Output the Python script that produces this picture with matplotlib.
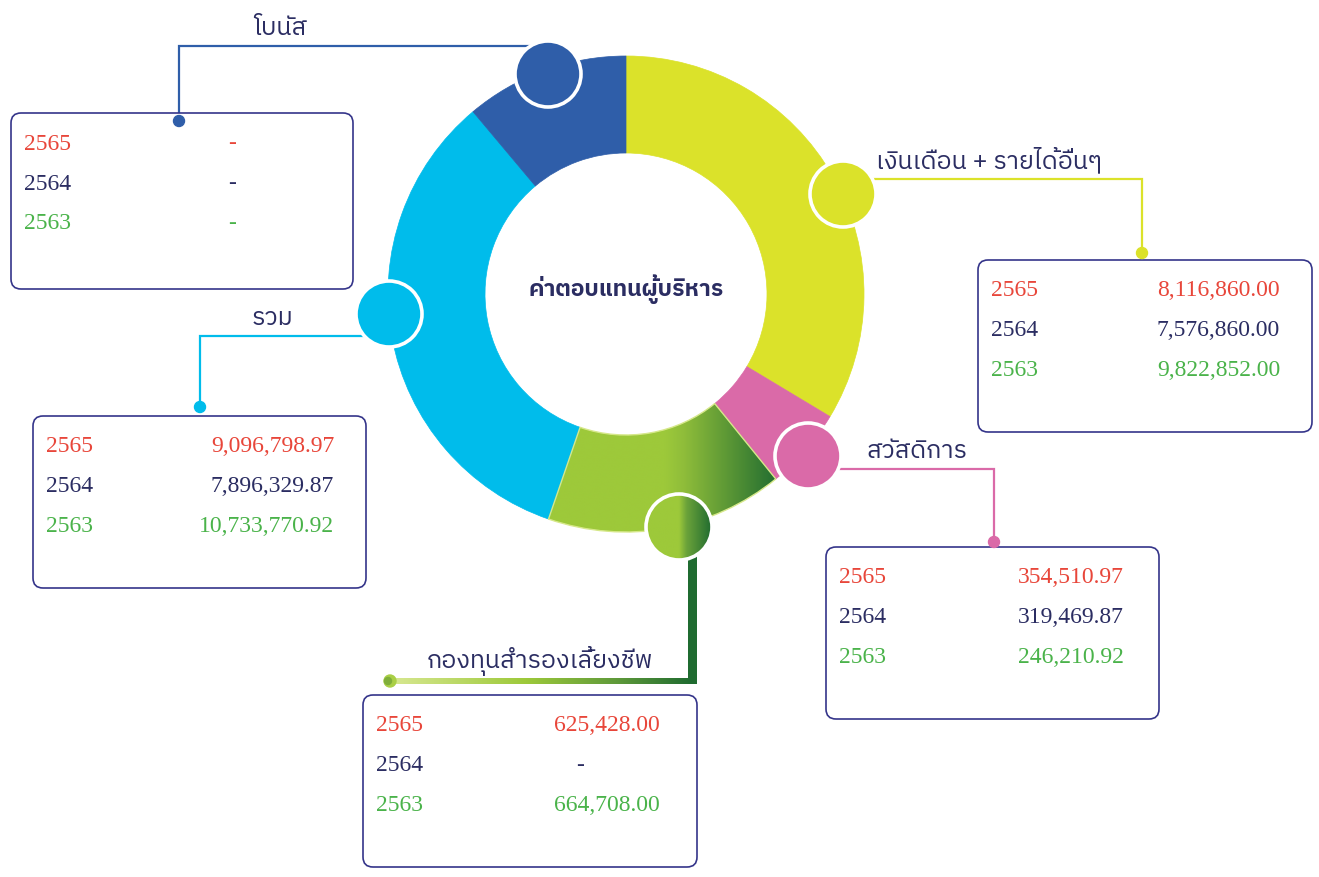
import numpy as np
import matplotlib
matplotlib.use("Agg")
import matplotlib.pyplot as plt
from matplotlib import font_manager
from matplotlib.ft2font import FT2Font
from matplotlib.patches import Wedge, Circle, FancyBboxPatch
from matplotlib.colors import LinearSegmentedColormap

# ---------------- data ----------------
title = "ค่าตอบแทนผู้บริหาร"
categories = ["เงินเดือน + รายได้อื่นๆ", "สวัสดิการ", "กองทุนสำรองเลี้ยงชีพ", "รวม", "โบนัส"]
ring_share_deg = [121, 20, 58, 121, 40]          # decorative ring segment sizes (clockwise from top)
years = ["2565", "2564", "2563"]
val_salary = ["8,116,860.00", "7,576,860.00", "9,822,852.00"]
val_welfare = ["354,510.97", "319,469.87", "246,210.92"]
val_fund = ["625,428.00", "-", "664,708.00"]
val_total = ["9,096,798.97", "7,896,329.87", "10,733,770.92"]
val_bonus = ["-", "-", "-"]

# ---------------- fonts ----------------
def find_thai_font():
    best = None
    for f in font_manager.fontManager.ttflist:
        try:
            cm = FT2Font(f.fname).get_charmap()
        except Exception:
            continue
        if 0x0E01 in cm and 0x0E33 in cm:
            if "Thai" in f.name and "Looped" not in f.name:
                return f.name
            if best is None:
                best = f.name
    return best

thai = find_thai_font()
thai_fam = [thai, "DejaVu Sans"] if thai else ["DejaVu Sans"]
num_fam = ["Liberation Serif", "DejaVu Serif"]

# ---------------- colours ----------------
YELLOW = "#dbe22a"
PINK = "#da6aa8"
GREEN_L = "#9dc93a"
GREEN_D = "#1f6b30"
CYAN = "#00bceb"
BLUE = "#2f5ea9"
NAVY = "#2b2d62"
BOXC = "#35358a"
RED = "#e8463a"
GRN = "#4ab34a"
seg_colors = [YELLOW, PINK, None, CYAN, BLUE]

W, H = 1319, 878
fig = plt.figure(figsize=(W / 100, H / 100), dpi=100)
ax = fig.add_axes([0, 0, 1, 1])
ax.set_xlim(0, W)
ax.set_ylim(H, 0)
ax.axis("off")

cx, cy, R, RW = 626, 295, 238, 97

grad_ring = LinearSegmentedColormap.from_list(
    "gr", [(0, GREEN_L), (0.52, GREEN_L), (0.6, "#8fbd3a"), (1.0, GREEN_D)])

start = 0.0
for i, (share, col) in enumerate(zip(ring_share_deg, seg_colors)):
    b0, b1 = start, start + share
    t1, t2 = b0 - 90, b1 - 90
    if col is None:
        w = Wedge((cx, cy), R, t1, t2, width=RW, facecolor="none", edgecolor="none")
        ax.add_patch(w)
        g = np.linspace(0, 1, 256).reshape(1, -1)
        im = ax.imshow(g, cmap=grad_ring, extent=(540, 780, 540, 390), aspect="auto",
                       interpolation="bilinear", zorder=2)
        im.set_clip_path(w)
        w2 = Wedge((cx, cy), R, t1, t2, width=RW, facecolor="none",
                   edgecolor="#d6e88a", lw=1.0, zorder=2.1)
        ax.add_patch(w2)
    else:
        ax.add_patch(Wedge((cx, cy), R, t1, t2, width=RW, facecolor=col,
                           edgecolor=col, lw=0.5, zorder=2))
    start = b1

# ---------------- leader lines ----------------
LW = 1.6
DOT_Z = 4.5
ax.plot([548, 179, 179], [47, 47, 122], color=BLUE, lw=LW, zorder=3, solid_joinstyle="miter")
ax.add_patch(Circle((179, 122), 5.5, color=BLUE, zorder=DOT_Z))
ax.plot([843, 1142, 1142], [180, 180, 254], color=YELLOW, lw=LW, zorder=3, solid_joinstyle="miter")
ax.add_patch(Circle((1142, 254), 5.5, color=YELLOW, zorder=DOT_Z))
ax.plot([389, 200, 200], [337, 337, 408], color=CYAN, lw=LW, zorder=3, solid_joinstyle="miter")
ax.add_patch(Circle((200, 408), 5.5, color=CYAN, zorder=DOT_Z))
ax.plot([808, 994, 994], [470, 470, 543], color=PINK, lw=LW, zorder=3, solid_joinstyle="miter")
ax.add_patch(Circle((994, 543), 5.5, color=PINK, zorder=DOT_Z))
# fund (gradient)
ax.add_patch(plt.Rectangle((688, 540), 9, 145, color=GREEN_D, zorder=3, lw=0))
grad_line = LinearSegmentedColormap.from_list(
    "gl", [(0, "#d8e892"), (0.45, GREEN_L), (0.75, "#5f9a3a"), (1.0, GREEN_D)])
g = np.linspace(0, 1, 256).reshape(1, -1)
ax.imshow(g, cmap=grad_line, extent=(390, 692, 685, 679), aspect="auto",
          interpolation="bilinear", zorder=3)
ax.add_patch(Circle((390, 682), 6, color="#a9cf45", zorder=3.2))
ax.add_patch(Circle((388, 682), 3.5, color="#7fae3a", zorder=3.3))

# ---------------- marker circles ----------------
def marker(x, y, col):
    ax.add_patch(Circle((x, y), 33, facecolor=col, edgecolor="white", lw=2.6, zorder=4))

marker(548, 75, BLUE)
marker(843, 195, YELLOW)
marker(389, 315, CYAN)
marker(808, 457, PINK)
gc = Circle((679, 528), 33, facecolor="none", edgecolor="none", zorder=4)
ax.add_patch(gc)
grad_c = LinearSegmentedColormap.from_list(
    "gc", [(0, GREEN_L), (0.5, GREEN_L), (0.62, "#6aa23a"), (1.0, GREEN_D)])
imc = ax.imshow(g, cmap=grad_c, extent=(646, 712, 561, 495), aspect="auto",
                interpolation="bilinear", zorder=4)
imc.set_clip_path(gc)
ax.add_patch(Circle((679, 528), 33, facecolor="none", edgecolor="white", lw=2.6, zorder=4.1))

# ---------------- center title ----------------
ax.text(cx, 296, title, ha="center", va="baseline", fontsize=16.5, fontweight="bold",
        color=NAVY, family=thai_fam, zorder=5)

# ---------------- category labels ----------------
lab_pos = [(989, 168), (917, 458), (540, 668), (272, 325), (280, 35)]
for name, (x, y) in zip(categories, lab_pos):
    ax.text(x, y, name, ha="center", va="baseline", fontsize=18, color=NAVY,
            family=thai_fam, zorder=5)

# ---------------- boxes ----------------
year_cols = [RED, NAVY, GRN]
FS = 17

def box(x0, y0, x1, y1, xv, vals):
    ax.add_patch(FancyBboxPatch((x0, y0), x1 - x0, y1 - y0,
                                boxstyle="round,pad=0,rounding_size=10",
                                facecolor="white", edgecolor=BOXC, lw=1.2, zorder=3.5))
    for k, (yr, v, c) in enumerate(zip(years, vals, year_cols)):
        yy = y0 + 30 + 40 * k
        ax.text(x0 + 13, yy, yr, ha="left", va="center", fontsize=FS, color=c,
                family=num_fam, zorder=5)
        if v == "-":
            ax.text(xv[1], yy, v, ha="center", va="center", fontsize=FS, color=c,
                    family=num_fam, zorder=5)
        else:
            ax.text(xv[0], yy, v, ha="right", va="center", fontsize=FS, color=c,
                    family=num_fam, zorder=5)

box(978, 261, 1312, 433, (1280, 1200), val_salary)
box(826, 548, 1159, 720, (1124, 1050), val_welfare)
box(363, 696, 697, 868, (660, 580), val_fund)
box(33, 417, 366, 589, (334, 260), val_total)
box(11, 114, 353, 290, (334, 232), val_bonus)

fig.savefig("out.png", dpi=100)
